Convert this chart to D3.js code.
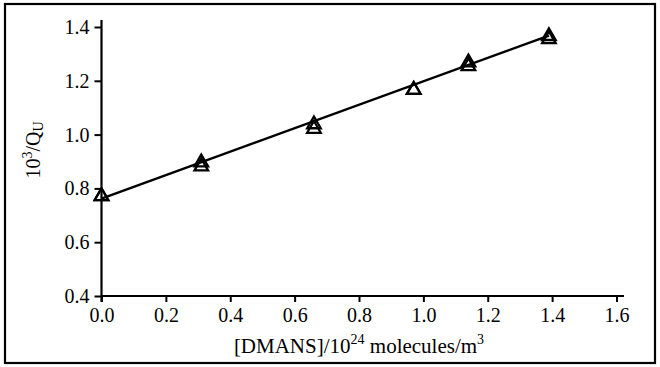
<!DOCTYPE html>
<html>
<head>
<meta charset="utf-8">
<script src="https://cdn.jsdelivr.net/npm/d3@7"></script>
<style>
  html, body { margin: 0; padding: 0; background: #fff; }
  svg { display: block; }
  text { font-family: "Liberation Serif", "Times New Roman", serif; fill: #000; }
</style>
</head>
<body>
<svg id="chart" width="660" height="367"></svg>
<script>
// Measured [DMANS] concentrations (10^24 molecules/m^3) and 10^3/Q_U (two runs each)
const concentration = [0.0, 0.31, 0.66, 0.97, 1.14, 1.39];
const invQrunA = [0.775, 0.885, 1.025, 1.170, 1.258, 1.358];
const invQrunB = [0.775, 0.900, 1.042, 1.170, 1.272, 1.370];
// Least-squares fit drawn through the data
const fitX = [0.0, 1.39];
const fitY = [0.762, 1.368];
const xTicks = [0.0, 0.2, 0.4, 0.6, 0.8, 1.0, 1.2, 1.4, 1.6];
const yTicks = [0.4, 0.6, 0.8, 1.0, 1.2, 1.4];

const svg = d3.select("#chart");

// Outer frame
svg.append("rect")
  .attr("x", 5).attr("y", 4).attr("width", 650).attr("height", 359)
  .attr("fill", "none").attr("stroke", "#000").attr("stroke-width", 2.2);

const x = d3.scaleLinear().domain([0, 1.6]).range([101.5, 616.5]);
const y = d3.scaleLinear().domain([0.4, 1.4]).range([296, 27]);

const fmt = d3.format(".1f");

// X axis
const gx = svg.append("g").attr("transform", "translate(0,296)")
  .call(d3.axisBottom(x).tickValues(xTicks).tickFormat(fmt).tickSizeOuter(0).tickSizeInner(6).tickPadding(6));
gx.select(".domain").attr("d", `M${x(0)},0H624`);

// Y axis
const gy = svg.append("g").attr("transform", "translate(101.5,0)")
  .call(d3.axisLeft(y).tickValues(yTicks).tickFormat(fmt).tickSizeOuter(0).tickSizeInner(7).tickPadding(5));
gy.select(".domain").attr("d", `M0,${y(0.4) + 6}V20`);

[gx, gy].forEach(g => {
  g.select(".domain").attr("stroke", "#000").attr("stroke-width", 2.2);
  g.selectAll(".tick line").attr("stroke", "#000").attr("stroke-width", 2);
  g.selectAll(".tick text")
    .attr("font-family", "Liberation Serif, Times New Roman, serif")
    .attr("font-size", 20).attr("fill", "#000");
});

// Fit line
const fit = fitX.map((v, i) => [v, fitY[i]]);
svg.append("path")
  .datum(fit)
  .attr("d", d3.line().x(d => x(d[0])).y(d => y(d[1])))
  .attr("fill", "none").attr("stroke", "#000").attr("stroke-width", 2.4);

// Open triangle markers for both runs
const tri = d3.symbol().type(d3.symbolTriangle).size(80);
[invQrunA, invQrunB].forEach(run => {
  svg.append("g").selectAll("path")
    .data(concentration.map((c, i) => [c, run[i]]))
    .join("path")
    .attr("d", tri)
    .attr("transform", d => `translate(${x(d[0])},${y(d[1]) + 1})`)
    .attr("fill", "none").attr("stroke", "#000").attr("stroke-width", 2.3);
});

// X axis title
const xt = svg.append("text")
  .attr("x", 359).attr("y", 353)
  .attr("text-anchor", "middle").attr("font-size", 21);
xt.append("tspan").text("[DMANS]/10");
xt.append("tspan").attr("dy", -9).attr("font-size", 14).text("24");
xt.append("tspan").attr("dy", 9).text(" molecules/m");
xt.append("tspan").attr("dy", -9).attr("font-size", 14).text("3");

// Y axis title
const yt = svg.append("text")
  .attr("transform", "translate(40,150) rotate(-90)")
  .attr("text-anchor", "middle").attr("font-size", 20);
yt.append("tspan").text("10");
yt.append("tspan").attr("dy", -8).attr("font-size", 14).text("3");
yt.append("tspan").attr("dy", 8).text("/Q");
yt.append("tspan").attr("dy", 3).attr("font-size", 14).text("U");
</script>
</body>
</html>
